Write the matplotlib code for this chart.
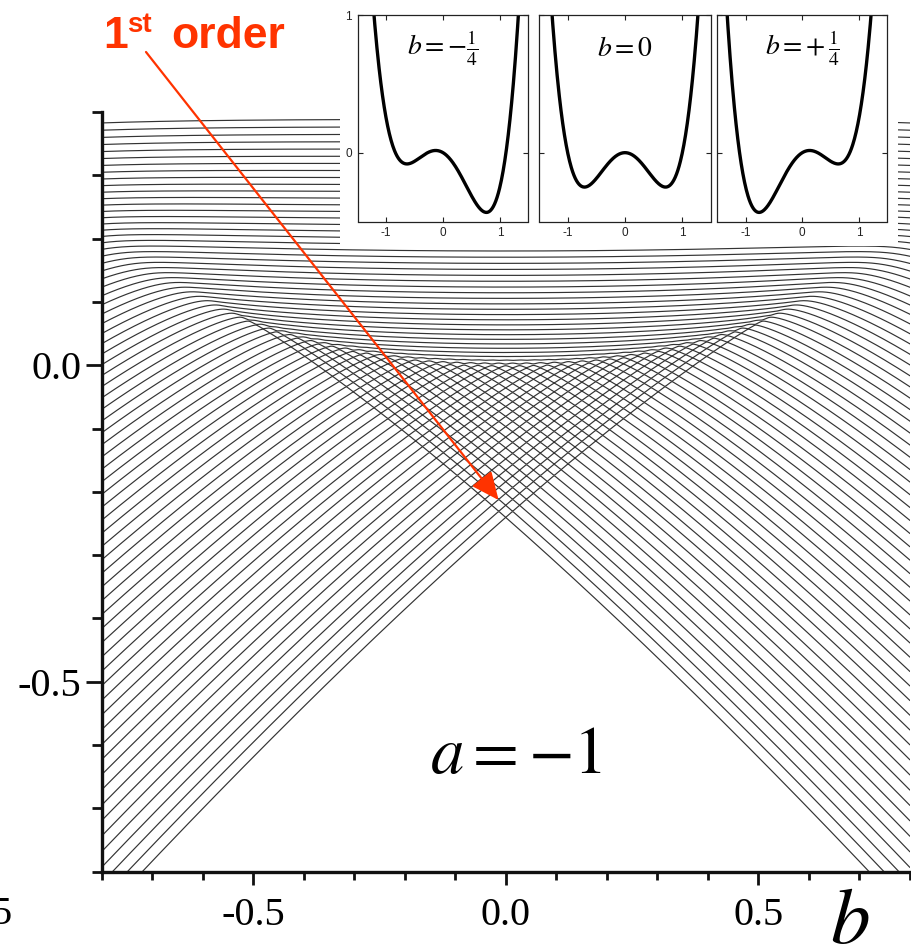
import numpy as np
import matplotlib.pyplot as plt
from matplotlib.patches import Rectangle

plt.rcParams['mathtext.fontset'] = 'stix'

# double well V(x) = x^4 + a x^2 + b x, levels drawn versus the tilt b
a = -1.0
hbar = 0.0097            # read from the level spacing
top_level = 0.386        # highest level drawn, at b = -0.8
b_values = np.linspace(-0.8, 0.8, 641)

# the three small potentials at the top
inset_b = [-0.25, 0.0, 0.25]
inset_titles = [r'$b=-\frac{1}{4}$', r'$b=0$', r'$b=+\,\frac{1}{4}$']

x_ticks = [-0.5, 0.0, 0.5]
x_ticklabels = ['-0.5', '0.0', '0.5']
y_ticks = [-0.5, 0.0]
y_ticklabels = ['-0.5', '0.0']

red = '#ff3300'

# eigenvalues on a sinc-DVR grid
x = np.linspace(-1.6, 1.6, 340)
dx = x[1] - x[0]
n = np.arange(len(x))
d = n[:, None] - n[None, :]
dd = np.where(d == 0, 1, d)
T = np.where(d == 0, np.pi**2 / 3, 2.0 * (-1.0)**d / dd**2) * hbar**2 / (2 * dx**2)
levels = np.array([np.linalg.eigvalsh(T + np.diag(x**4 + a * x**2 + b * x))[:200]
                   for b in b_values])
n_levels = int(np.sum(levels[0] < top_level))

fig = plt.figure(figsize=(9.12, 9.49), dpi=100)
W, H = 912, 949
ax = fig.add_axes([101.7 / W, 1 - 871.7 / H, 808 / W, 759.7 / H])
for k in range(n_levels):
    ax.plot(b_values, levels[:, k], color='#333333', lw=0.85)

ax.set_xlim(-0.8, 0.8)
ax.set_ylim(-0.8, 0.4)
for s in ['top', 'right']:
    ax.spines[s].set_visible(False)
for s in ['left', 'bottom']:
    ax.spines[s].set_linewidth(2.4)
    ax.spines[s].set_color('#111111')

ax.set_xticks(x_ticks)
ax.set_xticklabels(x_ticklabels, family='Liberation Serif', fontsize=29)
ax.set_xticks(np.arange(-0.8, 0.81, 0.1), minor=True)
ax.set_yticks(y_ticks)
ax.set_yticklabels(y_ticklabels, family='Liberation Serif', fontsize=29)
ax.set_yticks(np.arange(-0.8, 0.41, 0.1), minor=True)
ax.tick_params(axis='x', which='major', length=9.5, width=2, pad=9, color='#111111')
ax.tick_params(axis='x', which='minor', length=5.5, width=2, color='#111111')
ax.tick_params(axis='y', which='major', length=11.5, width=2, pad=3, color='#111111')
ax.tick_params(axis='y', which='minor', length=7, width=2, color='#111111')

fig.text(12 / W, 1 - 924 / H, '5', family='Liberation Serif', fontsize=29,
         ha='right', va='baseline')
fig.text(430 / W, 1 - 773 / H, r'$a=-1$', fontsize=48, va='baseline')
fig.text(830 / W, 1 - 943 / H, r'$b$', fontsize=57, va='baseline')

# 1st order label and arrow
fig.text(103 / W, 1 - 48 / H, '1', fontsize=32, weight='bold', color=red,
         family='Liberation Sans', va='baseline')
fig.text(127 / W, 1 - 32 / H, 'st', fontsize=20, weight='bold', color=red,
         family='Liberation Sans', va='baseline')
fig.text(171 / W, 1 - 48 / H, 'order', fontsize=32, weight='bold', color=red,
         family='Liberation Sans', va='baseline')
ax.annotate('', xy=(-0.014, -0.213), xycoords='data',
            xytext=(146 / W, 1 - 52 / H), textcoords='figure fraction',
            arrowprops=dict(arrowstyle='-|>,head_length=0.85,head_width=0.38',
                            mutation_scale=20, color=red, lw=1.6,
                            shrinkA=0, shrinkB=0),
            annotation_clip=False, zorder=5)

# white backing for the insets
fig.add_artist(Rectangle((340 / W, 1 - 246 / H), 558 / W, 246 / H,
                         transform=fig.transFigure, facecolor='white',
                         edgecolor='none', zorder=2))

panels = [(357.7, 528.3), (539, 711), (717.3, 887.3)]
xs = np.linspace(-1.5, 1.5, 400)
for i, (b, title) in enumerate(zip(inset_b, inset_titles)):
    x0, x1 = panels[i]
    iax = fig.add_axes([x0 / W, 1 - 221.5 / H, (x1 - x0) / W, 206.5 / H], zorder=3)
    iax.plot(xs, xs**4 + a * xs**2 + b * xs, color='black', lw=2.4)
    iax.set_xlim(-1.5, 1.5)
    iax.set_ylim(-0.5, 1)
    iax.set_xticks([-1, 0, 1])
    iax.set_xticklabels(['-1', '0', '1'], family='Liberation Sans', fontsize=8.5)
    iax.set_yticks([0, 1])
    if i == 0:
        iax.set_yticklabels(['0', '1'], family='Liberation Sans', fontsize=8.5)
    else:
        iax.set_yticklabels([])
    iax.tick_params(direction='in', top=True, right=True, length=3.5, width=0.8,
                    pad=4, color='#222222', labelcolor='#222222')
    for s in iax.spines.values():
        s.set_linewidth(0.9)
        s.set_color('#222222')
    iax.text(0, 0.76, title, ha='center', va='center', fontsize=20)

fig.savefig('out.png', dpi=100)
